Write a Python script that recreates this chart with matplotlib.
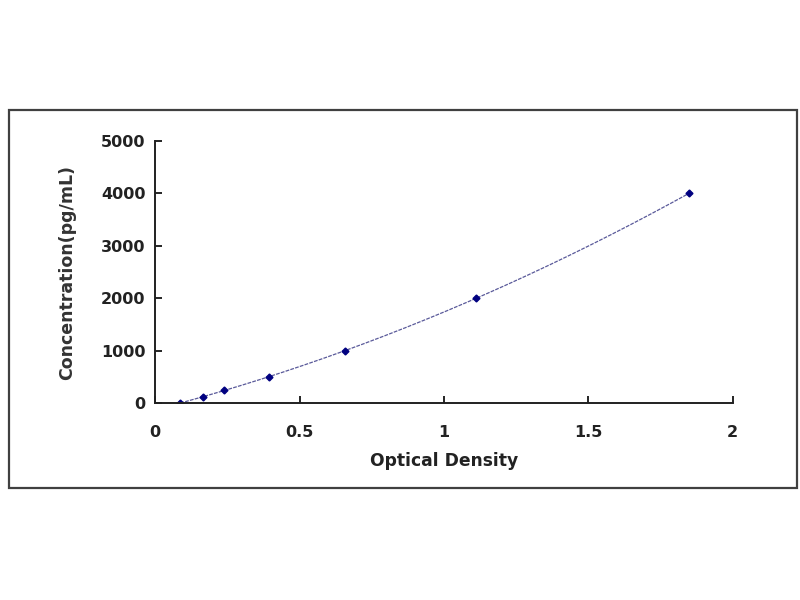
import numpy as np
import matplotlib
matplotlib.use("Agg")
import matplotlib.pyplot as plt
from matplotlib.patches import Rectangle

# standard curve points
od = [0.087, 0.166, 0.239, 0.394, 0.657, 1.11, 1.848]
conc = [0, 125, 250, 500, 1000, 2000, 4000]

x_ticks = [0, 0.5, 1, 1.5, 2]
x_tick_labels = ["0", "0.5", "1", "1.5", "2"]
y_ticks = [0, 1000, 2000, 3000, 4000, 5000]

plt.rcParams['font.family'] = ['DejaVu Sans']

fig = plt.figure(figsize=(8, 6), dpi=100)
fig.patch.set_facecolor("white")

# chart area frame
fig.patches.append(Rectangle((0.011, 0.187), 0.985, 0.630, transform=fig.transFigure,
                             fill=False, edgecolor="#404040", linewidth=1.6))

ax = fig.add_axes([0.194, 0.328, 0.722, 0.437])

# quadratic trend line through the standards
coef = np.polyfit(od, conc, 2)
xs = np.linspace(min(od), max(od), 200)
ax.plot(xs, np.polyval(coef, xs), color="#5a5a9a", linewidth=0.9, linestyle=(0, (3, 1)))
ax.plot(od, conc, linestyle="none", marker="D", markersize=3.5, color="#000080")

ax.set_xlim(0, 2)
ax.set_ylim(0, 5000)
ax.set_xticks(x_ticks)
ax.set_xticklabels(x_tick_labels)
ax.set_yticks(y_ticks)

for s in ["top", "right"]:
    ax.spines[s].set_visible(False)
for s in ["left", "bottom"]:
    ax.spines[s].set_linewidth(1.4)
    ax.spines[s].set_color("#202020")

ax.tick_params(axis="x", direction="in", length=5, width=1.2, pad=16, labelsize=11.5)
ax.tick_params(axis="y", direction="in", length=5, width=1.2, pad=7, labelsize=11.5)
for lab in ax.get_xticklabels() + ax.get_yticklabels():
    lab.set_fontweight("bold")
    lab.set_color("#222222")

ax.set_xlabel("Optical Density", fontsize=12.3, fontweight="bold", color="#222222", labelpad=8)
ax.set_ylabel("Concentration(pg/mL)", fontsize=12.5, fontweight="bold", color="#333333", labelpad=18)

fig.savefig("out.png", dpi=100, facecolor="white")
